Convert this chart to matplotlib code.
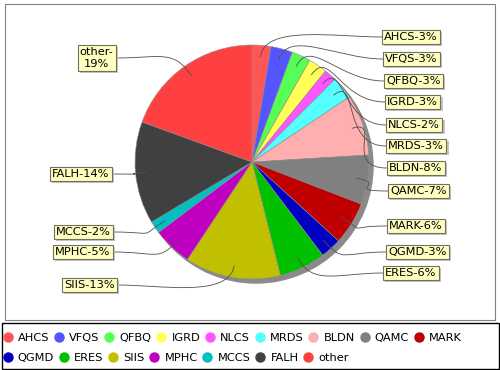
import numpy as np
import matplotlib.pyplot as plt
import matplotlib.patheffects as pe
from matplotlib.lines import Line2D
from matplotlib.path import Path
from matplotlib.patches import PathPatch, Circle, Rectangle

# data (share of total, %)
names = ["AHCS", "VFQS", "QFBQ", "IGRD", "NLCS", "MRDS", "BLDN", "QAMC",
         "MARK", "QGMD", "ERES", "SIIS", "MPHC", "MCCS", "FALH", "other"]
values = [2.6, 3.0, 2.6, 2.6, 1.7, 3.1, 8.4, 6.8,
          5.9, 2.9, 6.4, 13.2, 5.4, 1.7, 14.1, 19.4]
colors = ["#FF5555", "#5555FF", "#55FF55", "#FFFF55", "#FF55FF", "#55FFFF",
          "#FFAFAF", "#808080", "#C00000", "#0000C0", "#00C000", "#C0C000",
          "#C000C0", "#00C0C0", "#404040", "#FF4040"]

# label box positions in pixels (x = inner edge of box, y = centre), top-left origin
label_x = [382, 383, 384, 385, 386, 386, 387, 388,
           387, 386, 383, 117, 113, 113, 112, 116]
label_y = [37, 59, 81, 102, 125, 146, 168, 191,
           226, 252, 273, 285, 252, 232, 174, 58]

W, H = 500, 370
cx, cy, R = 252, 162, 117


def py(y):
    return H - y


fig = plt.figure(figsize=(5, 3.7), dpi=100)
ax = fig.add_axes([0, 0, 1, 1])

# shadow
ax.add_patch(Circle((cx + 4, py(cy) - 4), R, color="#8a8a8a", zorder=1))
ax.pie(values, colors=colors, startangle=90, counterclock=False,
       center=(cx, py(cy)), radius=R,
       wedgeprops=dict(edgecolor="#909090", linewidth=0.4, zorder=2))

total = sum(values)
cum = np.cumsum(values) - np.array(values) / 2
fs = 8.2
shadow = [pe.SimplePatchShadow(offset=(1.5, -1.5), shadow_rgbFace="#c4c4c4", alpha=1),
          pe.Normal()]
for i, name in enumerate(names):
    pct = int(values[i] / total * 100 + 0.5)
    right = label_x[i] > cx
    text = f"{name}-{pct}%" if name != "other" else f"{name}-\n{pct}%"
    ang = np.deg2rad(cum[i] / total * 360)
    dx, dy = np.sin(ang), np.cos(ang)
    p0 = (cx + 0.9 * R * dx, py(cy) + 0.9 * R * dy)
    p1 = (cx + 1.18 * R * dx, py(cy) + 1.18 * R * dy)
    tx, ty = label_x[i], py(label_y[i])
    p2 = (tx - 45 if right else tx + 45, ty)
    path = Path([p0, p1, p2, (tx, ty)],
                [Path.MOVETO, Path.CURVE4, Path.CURVE4, Path.CURVE4])
    ax.add_patch(PathPatch(path, fc="none", ec="#505050", lw=0.6, zorder=3))
    ha = "left" if right else "right"
    off = 2.3 if right else -2.3
    t = ax.text(tx + off, ty, text, color="black", zorder=5, fontsize=fs,
                ha=ha, va="center", multialignment="center",
                bbox=dict(boxstyle="square,pad=0.2", fc="#FFFFC0", ec="#707060",
                          lw=0.8))
    t.get_bbox_patch().set_path_effects(shadow)

# plot border and legend frame
ax.add_patch(Rectangle((5, py(320)), 490, 316, fc="none", ec="#808080", lw=0.8))
ax.add_patch(Rectangle((2, py(369)), 497, 46, fc="none", ec="black", lw=1.0))

handles = [Line2D([], [], marker="o", ls="", color=c, markersize=6.5) for c in colors]
rows = [(0, 9, 338), (9, 16, 358)]
legs = []
for a, b, yy in rows:
    leg = ax.legend(handles[a:b], names[a:b], ncol=b - a, loc="center left",
                    bbox_to_anchor=(3, py(yy)), bbox_transform=ax.transData,
                    frameon=False, fontsize=8.2, handlelength=0.8,
                    handletextpad=0.5, columnspacing=0.45, borderpad=0,
                    borderaxespad=0)
    legs.append(leg)
ax.add_artist(legs[0])

ax.set_xlim(0, W)
ax.set_ylim(0, H)
ax.set_aspect("auto")
ax.axis("off")
fig.savefig("out.png", dpi=100)
